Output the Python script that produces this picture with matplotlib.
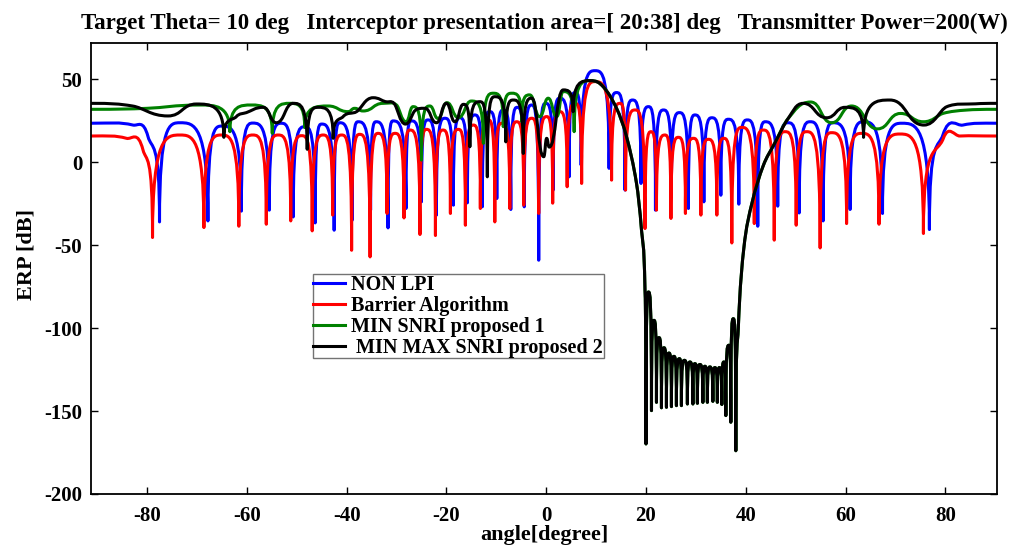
import matplotlib
matplotlib.use("Agg")
import matplotlib.pyplot as plt
from matplotlib.path import Path
from matplotlib.patches import PathPatch
from matplotlib.lines import Line2D

# ---- values (angle in degree, ERP in dB) ----
# NON LPI: lobe peaks and nulls
blue_deg = [-91.3, -82.8, -79.8, -77.5, -73.4, -67.8, -65.0, -61.1, -58.8, -55.5,
            -53.1, -50.7, -48.4, -46.3, -45.0, -42.5, -41.4, -38.9, -37.7, -35.2,
            -34.1, -31.7, -30.7, -28.1, -27.0, -25.0, -23.7, -22.0, -20.3, -18.6,
            -17.3, -15.8, -14.3, -12.8, -11.3, -9.9, -8.6, -7.1, -5.8, -4.4,
            -2.9, -1.5, -0.1, 1.4, 2.7, 4.6, 5.8, 7.0, 9.8, 12.6,
            14.1, 15.8, 17.3, 19.0, 20.5, 21.9, 23.5, 25.1, 26.7, 28.5,
            29.8, 31.6, 33.2, 35.0, 36.5, 38.6, 40.3, 42.4, 43.9, 46.4,
            48.5, 50.7, 52.9, 55.5, 57.5, 60.9, 63.6, 67.4, 71.3, 76.8,
            79.5, 83.5, 90.4]
blue_db = [23.6, 22.5, 15.5, -35.9, 23.9, -35.3, 21.9, -29.4, 23.7, -28.8,
           23.6, -32.9, 21.5, -36.5, 23.1, -40.9, 23.9, -34.9, 24.5, -28.8,
           24.5, -39.5, 25.0, -27.8, 25.0, -23.8, 25.6, -31.8, 26.6, -25.8,
           26.9, -24.4, 28.6, -26.8, 30.6, -21.8, 31.6, -28.4, 33.2, -26.8,
           34.6, -59.0, 35.6, -16.7, 38.7, -8.7, 42.1, -1.6, 55.3, -3.6,
           42.1, -16.7, 37.6, -12.7, 33.6, -28.8, 31.6, -14.7, 30.0, -27.8,
           28.6, -23.8, 26.9, -19.8, 26.0, -25.2, 25.6, -38.5, 24.5, -26.4,
           23.9, -30.5, 24.5, -35.3, 23.9, -28.4, 24.5, -30.8, 23.6, -40.5,
           16.5, 22.5, 23.6]

# Barrier Algorithm
red_deg = [-91.3, -84.1, -80.8, -78.9, -73.4, -68.6, -65.1, -61.6, -58.8, -56.1,
           -53.7, -51.2, -49.0, -46.9, -44.7, -42.8, -41.0, -39.0, -37.4, -35.3,
           -33.7, -31.9, -30.3, -28.5, -27.3, -25.3, -24.0, -22.2, -20.7, -19.2,
           -17.6, -16.2, -14.6, -13.2, -11.6, -10.3, -8.9, -7.3, -5.9, -4.5,
           -2.9, -1.5, 0.1, 1.3, 2.7, 4.2, 5.8, 7.1, 9.8, 13.1,
           14.8, 15.9, 17.8, 19.8, 21.0, 22.1, 23.8, 25.0, 26.5, 27.9,
           29.5, 31.0, 32.5, 34.2, 35.6, 37.2, 39.2, 41.7, 43.5, 45.7,
           47.9, 50.1, 52.2, 54.9, 57.2, 60.2, 63.2, 66.7, 70.9, 75.6,
           79.6, 82.9, 90.4]
red_db = [15.9, 14.5, 7.4, -45.3, 16.5, -39.3, 16.5, -38.5, 16.5, -37.3,
          16.5, -35.3, 16.1, -41.3, 16.5, -31.8, 16.5, -53.0, 16.9, -57.0,
          17.5, -30.8, 17.5, -33.5, 19.5, -43.5, 19.9, -44.1, 19.5, -30.8,
          19.9, -37.9, 22.5, -27.8, 25.6, -35.9, 23.6, -27.8, 24.5, -25.8,
          26.6, -30.8, 27.6, -24.6, 30.6, -14.7, 35.6, -12.7, 48.7, -10.7,
          35.6, -16.7, 31.6, -39.9, 18.5, -28.8, 16.5, -33.8, 15.1, -30.8,
          14.5, -31.8, 13.9, -31.8, 14.5, -48.6, 21.1, -36.9, 19.5, -46.9,
          18.5, -37.9, 18.5, -51.6, 17.9, -36.9, 17.5, -37.3, 17.1, -42.9,
          14.5, 15.9, 15.9]

# MIN SNRI proposed 1, left of the main lobe
green_left_deg = [-91.3, -80.0, -69.4, -63.4, -59.1, -54.9, -51.4, -48.4, -43.7, -39.7,
                  -38.4, -36.7, -32.7, -30.0, -28.1, -26.7, -25.0, -23.3, -21.7, -19.9,
                  -17.6, -15.0, -12.6, -10.6, -8.6, -6.9, -4.9, -3.3, -1.3, 0.4,
                  2.1, 3.4, 5.6]
green_left_db = [32.0, 32.6, 34.6, 18.5, 34.6, 17.5, 35.6, 21.0, 34.0, 30.6,
                 32.6, 31.0, 35.6, 34.6, 24.5, 33.6, 1.4, 34.0, 26.5, 36.0,
                 27.0, 37.0, 11.5, 41.7, 21.5, 41.7, 24.5, 40.7, 27.6, 38.7,
                 27.6, 42.7, 18.5]
green_right_deg = [53.0, 57.2, 61.2, 66.4, 71.0, 75.6, 79.6, 84.0, 90.4]
green_right_db = [36.4, 23.9, 34.0, 20.2, 29.5, 24.5, 29.6, 31.5, 32.0]

# MIN MAX SNRI proposed 2, left of the main lobe
black_left_deg = [-91.3, -82.9, -75.8, -70.1, -64.6, -62.1, -60.1, -56.7, -54.1, -50.7,
                  -47.9, -45.7, -42.7, -40.7, -38.0, -34.7, -32.2, -30.5, -28.2, -26.3,
                  -24.3, -22.0, -20.0, -18.3, -16.6, -15.3, -13.3, -11.8, -10.3, -8.1,
                  -6.6, -4.6, -2.9, -0.5, 0.1, 0.6, 3.4, 5.4]
black_left_db = [35.6, 34.0, 28.0, 35.2, 15.1, 27.6, 30.0, 33.2, 23.9, 35.6,
                 7.9, 33.2, 14.5, 27.6, 30.6, 39.0, 36.6, 35.6, 23.1, 31.2,
                 32.6, 23.9, 35.6, 24.5, 35.0, 9.4, 36.6, -8.7, 39.6, 12.4,
                 37.6, 5.4, 38.7, 3.4, 14.5, 9.2, 43.7, 30.6]
black_right_deg = [51.5, 56.2, 59.9, 63.6, 68.9, 75.7, 80.3, 86.0, 90.4]
black_right_db = [35.6, 26.9, 33.2, 15.1, 37.6, 22.5, 33.6, 35.3, 35.6]

# main lobe and its fall into the interceptor area (same for both proposals)
fall_deg = [8.8, 11.4, 14.1, 16.1, 18.1, 19.1, 19.8]
fall_db = [49.3, 45.7, 32.6, 15.5, -12.7, -40.9, -77.1]
# nulls and lobes inside the [20:38] deg area
notch_tip_deg = [20.0, 21.1, 22.1, 23.1, 24.1, 25.1, 26.1, 27.1, 28.3, 29.4,
                 30.3, 31.4, 32.3, 33.4, 34.3, 35.2, 36.0, 37.0, 38.0]
notch_tip_db = [-169.8, -149.7, -144.7, -148.0, -147.7, -147.3, -146.7, -146.7, -145.7, -145.7,
                -145.3, -144.7, -144.7, -144.1, -144.7, -146.0, -152.7, -156.7, -173.9]
notch_peak_deg = [20.5, 21.6, 22.6, 23.6, 24.6, 25.6, 26.7, 27.7, 28.8, 29.8,
                  30.8, 31.8, 32.8, 33.8, 34.7, 35.6, 36.6, 37.5]
notch_peak_db = [-78.2, -95.3, -105.7, -111.8, -115.0, -117.0, -118.4, -119.4, -120.4, -121.4,
                 -121.9, -123.0, -123.4, -123.8, -123.8, -120.4, -110.3, -94.3]
# climb back out of the area
rise_deg = [38.5, 39.6, 41.2, 43.5, 45.7, 48.5]
rise_db = [-100.0, -52.0, -25.0, -2.0, 11.0, 26.5]

notch_deg, notch_db = [], []
for i in range(len(notch_tip_deg)):
    notch_deg.append(notch_tip_deg[i]); notch_db.append(notch_tip_db[i])
    if i < len(notch_peak_deg):
        notch_deg.append(notch_peak_deg[i]); notch_db.append(notch_peak_db[i])

mid_deg = fall_deg + notch_deg + rise_deg
mid_db = fall_db + notch_db + rise_db
green_deg = green_left_deg + mid_deg + green_right_deg
green_db = green_left_db + mid_db + green_right_db
black_deg = black_left_deg + mid_deg + black_right_deg
black_db = black_left_db + mid_db + black_right_db


def lobe_path(xs, ys):
    # bezier through the read points: sharp cusp at nulls, flat at tops
    n = len(xs)
    kind = []
    for i in range(n):
        if i == 0 or i == n - 1:
            kind.append('p')
            continue
        a, b, c = ys[i - 1], ys[i], ys[i + 1]
        if b < a and b < c:
            kind.append('n' if min(a - b, c - b) > 12 else 'p')
        elif b > a and b > c:
            kind.append('p')
        else:
            kind.append('m')

    def slope(i):
        return (ys[i + 1] - ys[i - 1]) / (xs[i + 1] - xs[i - 1])

    verts = [(xs[0], ys[0])]
    codes = [Path.MOVETO]
    for i in range(n - 1):
        x0, y0, x1, y1 = xs[i], ys[i], xs[i + 1], ys[i + 1]
        dx = x1 - x0
        if kind[i] == 'p':
            c1 = (x0 + dx / 2, y0)
        elif kind[i] == 'n':
            c1 = (x0, y1)
        else:
            c1 = (x0 + dx / 3, y0 + slope(i) * dx / 3)
        if kind[i + 1] == 'p':
            c2 = (x1 - dx / 2, y1)
        elif kind[i + 1] == 'n':
            c2 = (x1, y0)
        else:
            c2 = (x1 - dx / 3, y1 - slope(i + 1) * dx / 3)
        verts += [c1, c2, (x1, y1)]
        codes += [Path.CURVE4] * 3
    return Path(verts, codes)


serif = ['Liberation Serif', 'DejaVu Serif']
plt.rcParams['font.family'] = serif
plt.rcParams['font.weight'] = 'bold'
plt.rcParams['axes.unicode_minus'] = False

fig = plt.figure(figsize=(10.14, 5.47), dpi=100)
ax = fig.add_axes([0.0894, 0.0969, 0.8941, 0.8245])

series = [(blue_deg, blue_db, 'blue', 'NON LPI'),
          (red_deg, red_db, 'red', 'Barrier Algorithm'),
          (green_deg, green_db, 'green', 'MIN SNRI proposed 1'),
          (black_deg, black_db, 'black', ' MIN MAX SNRI proposed 2')]
handles = []
for xs, ys, col, lab in series:
    ax.add_patch(PathPatch(lobe_path(xs, ys), facecolor='none', edgecolor=col,
                           lw=2.2, joinstyle='round', capstyle='butt'))
    handles.append(Line2D([], [], color=col, lw=2.2, label=lab))

ax.set_xlim(-91.3, 90.4)
ax.set_ylim(-200, 72)
ax.set_xticks(range(-80, 81, 20))
ax.set_yticks(range(-200, 51, 50))
ax.tick_params(direction='in', top=True, right=True, length=5, width=1,
               labelsize=15)
ax.tick_params(axis='x', pad=9)
ax.tick_params(axis='y', pad=6)
for s in ax.spines.values():
    s.set_linewidth(1.3)

ax.set_title('Target Theta= 10 deg   Interceptor presentation area=[ 20:38] deg   '
             'Transmitter Power=200(W)', fontsize=16.5, fontweight='bold', pad=10)
ax.set_xlabel('angle[degree]', fontsize=16, fontweight='bold', labelpad=-1)
ax.set_ylabel('ERP [dB]', fontsize=16, fontweight='bold')
ax.yaxis.set_label_coords(-0.06, 0.53)

leg = ax.legend(handles=handles, loc='lower left', bbox_to_anchor=(0.245, 0.301),
                borderaxespad=0, fancybox=False, framealpha=1, borderpad=0.02,
                labelspacing=0.05, handlelength=1.6, handletextpad=0.3,
                prop={'family': serif, 'weight': 'bold', 'size': 14.5})
leg.get_frame().set_edgecolor('0.45')
leg.get_frame().set_linewidth(1.0)

fig.savefig('out.png', dpi=100)
